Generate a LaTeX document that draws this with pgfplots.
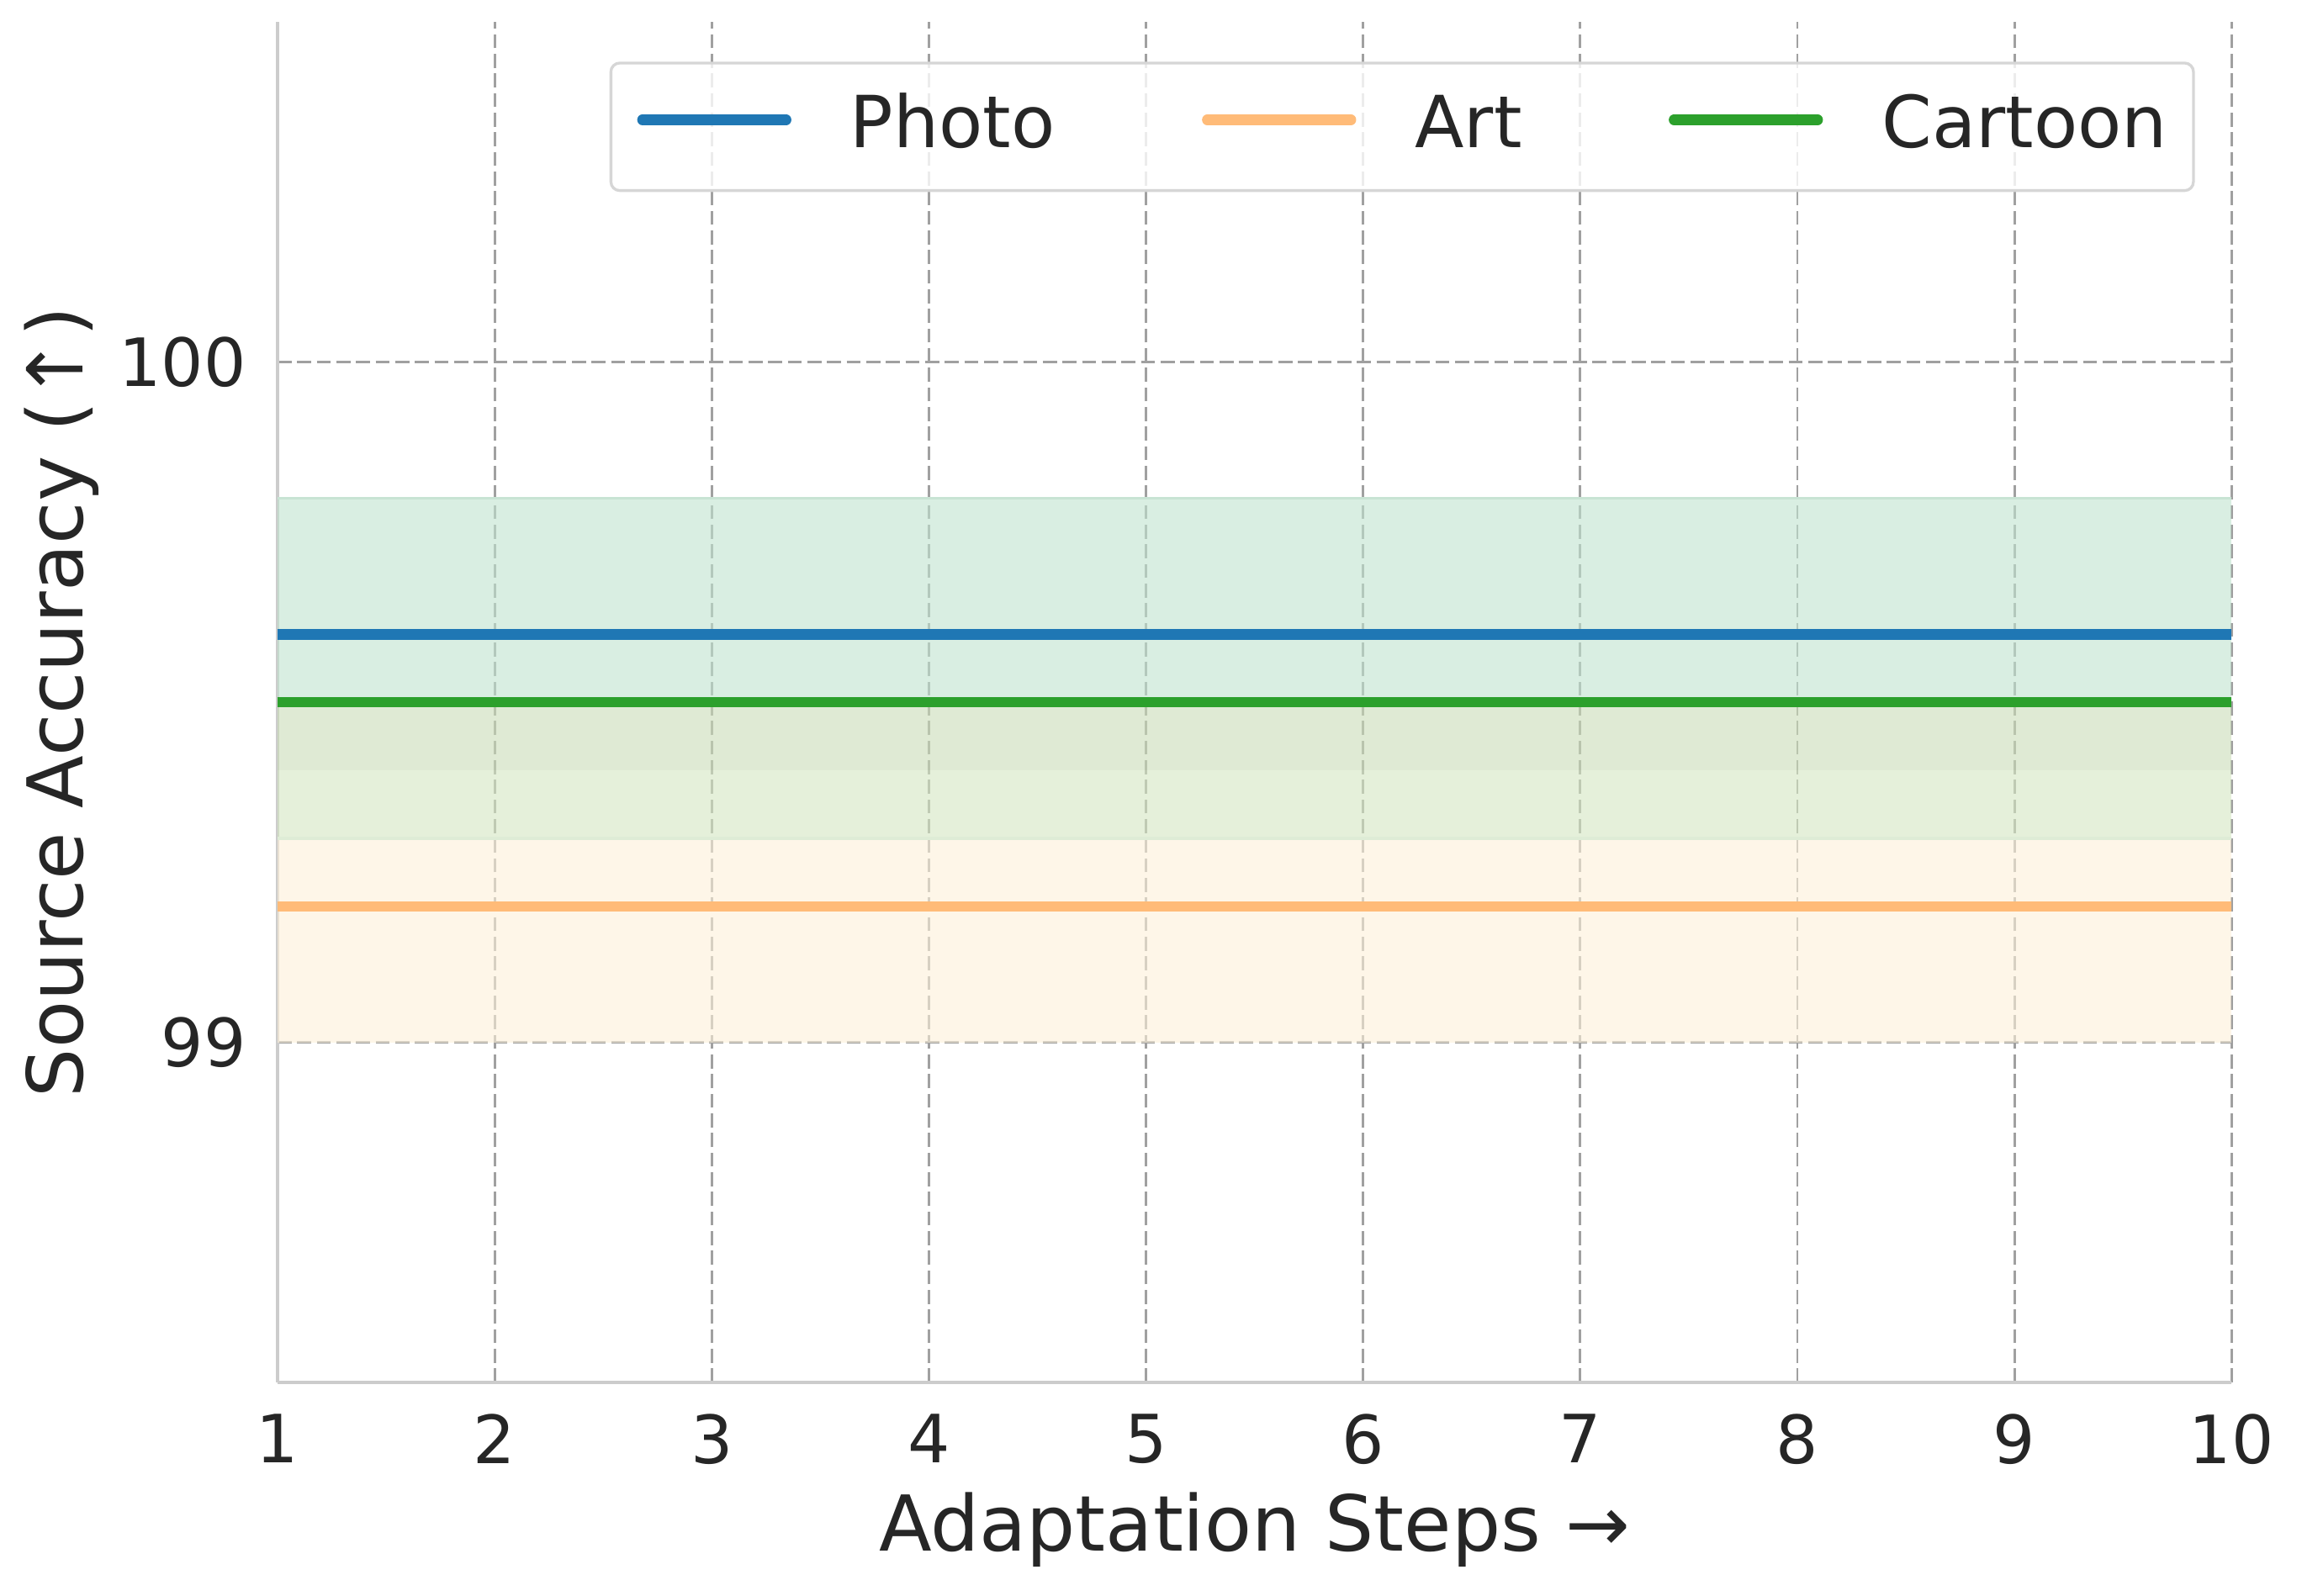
\documentclass[border=0pt]{standalone}
\usepackage{fontspec}
\setmainfont{DejaVu Sans}
\usepackage{pgfplots}
\pgfplotsset{compat=1.18}
\definecolor{cphoto}{HTML}{1F77B4}
\definecolor{cart}{HTML}{FFBB78}
\definecolor{ccartoon}{HTML}{2CA02C}
\definecolor{txt}{HTML}{262626}
\definecolor{bandA}{RGB}{192,227,207}
\definecolor{bandB}{RGB}{202,220,183}
\definecolor{bandC}{RGB}{212,230,193}
\definecolor{bandD}{RGB}{253,240,217}
\definecolor{gridc}{RGB}{160,160,160}
\definecolor{spinec}{RGB}{204,204,204}
\definecolor{legc}{RGB}{214,214,214}
\begin{document}
\begin{tikzpicture}
\begin{axis}[
  axis x line*=bottom, axis y line*=left,
  scale only axis, width=557.6pt, height=388.3pt,
  xmin=1, xmax=10, ymin=98.5, ymax=100.5,
  xtick={1,2,3,4,5,6,7,8,9,10}, ytick={99,100},
  axis line style={draw=spinec, line width=1pt, -},
  major tick length=0pt,
  grid=major,
  major grid style={draw=gridc, line width=0.7pt, dash pattern=on 4pt off 1.6pt},
  tick label style={font=\fontsize{19}{22}\selectfont, text=txt, inner sep=0pt},
  xticklabel shift=8.8pt, yticklabel shift=8.8pt,
  /pgf/number format/assume math mode=true,
  xlabel={Adaptation Steps →}, ylabel={Source Accuracy (↑)},
  label style={font=\fontsize{22}{26}\selectfont, text=txt},
  xlabel style={at={(axis description cs:0.5,-0.108)}, anchor=center},
  ylabel style={at={(axis description cs:-0.1105,0.5)}, anchor=center},
  legend columns=3,
  legend cell align=left,
  legend style={at={(axis description cs:0.9812,0.9709)}, anchor=north east,
    font=\fontsize{20.5}{24}\selectfont, text=txt,
    draw=legc, line width=0.8pt, rounded corners=2.5pt,
    fill=white, fill opacity=0.8, text opacity=1, draw opacity=1,
    inner xsep=7.5pt, inner ysep=9.2pt,
    nodes={inner sep=0pt, text height=15pt, text depth=3pt},
    /tikz/every odd column/.append style={column sep=16.8pt},
    /tikz/every even column/.append style={column sep=41.9pt}},
  legend image code/.code={\draw[#1, line width=3pt, line cap=round, rounded corners=0pt] (1.5pt,2pt) -- (42.5pt,2pt);},
]
% shaded bands (visible strips)
\addplot[forget plot, draw=none, fill=bandA, fill opacity=0.6] coordinates {(1,99.5) (10,99.5) (10,99.8) (1,99.8)} -- cycle;
\addplot[forget plot, draw=none, fill=bandB, fill opacity=0.6] coordinates {(1,99.4) (10,99.4) (10,99.5) (1,99.5)} -- cycle;
\addplot[forget plot, draw=none, fill=bandC, fill opacity=0.6] coordinates {(1,99.3) (10,99.3) (10,99.4) (1,99.4)} -- cycle;
\addplot[forget plot, draw=none, fill=bandD, fill opacity=0.6] coordinates {(1,99.0) (10,99.0) (10,99.3) (1,99.3)} -- cycle;
\addplot[forget plot, draw={rgb,255:red,200;green,228;blue,212}, line width=0.8pt] coordinates {(1,99.8) (10,99.8)};
\addplot[forget plot, draw={rgb,255:red,222;green,236;blue,214}, line width=0.8pt] coordinates {(1,99.3) (10,99.3)};
% mean lines
\addplot[cphoto, line width=3pt] coordinates {(1,99.6) (2,99.6) (3,99.6) (4,99.6) (5,99.6) (6,99.6) (7,99.6) (8,99.6) (9,99.6) (10,99.6)};
\addlegendentry{Photo}
\addplot[cart, line width=3pt] coordinates {(1,99.2) (2,99.2) (3,99.2) (4,99.2) (5,99.2) (6,99.2) (7,99.2) (8,99.2) (9,99.2) (10,99.2)};
\addlegendentry{Art}
\addplot[ccartoon, line width=3pt] coordinates {(1,99.5) (2,99.5) (3,99.5) (4,99.5) (5,99.5) (6,99.5) (7,99.5) (8,99.5) (9,99.5) (10,99.5)};
\addlegendentry{Cartoon}
\end{axis}
\path ([shift={(-79.2pt,-60.7pt)}]current axis.south west) rectangle ([shift={(20.1pt,6.3pt)}]current axis.north east);
\end{tikzpicture}
\end{document}
